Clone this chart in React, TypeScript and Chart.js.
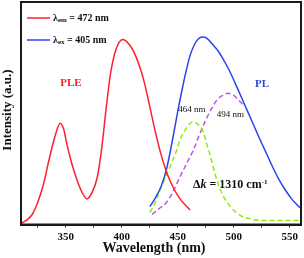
import { useEffect, useRef } from "react";
import { Chart, registerables } from "chart.js";

Chart.register(...registerables);

// PLE (λem = 472 nm)
const pleWavelength = [310, 315, 320, 325, 330, 335, 340, 345, 348, 351, 355, 360, 365, 369, 373, 378, 382, 386, 390, 395, 401, 408, 413, 419, 425, 430, 435, 440, 446, 452, 461];
const pleIntensity = [0.005, 0.02, 0.045, 0.1, 0.18, 0.29, 0.39, 0.455, 0.43, 0.36, 0.28, 0.2, 0.14, 0.115, 0.14, 0.21, 0.34, 0.52, 0.68, 0.79, 0.832, 0.8, 0.75, 0.66, 0.53, 0.415, 0.315, 0.235, 0.165, 0.115, 0.065];

// PL (λex = 405 nm)
const plWavelength = [425, 430, 435, 440, 446, 450, 454, 457, 461, 465, 468, 472, 476, 481, 486, 490, 496, 503, 510, 517, 524, 530, 535, 540, 546, 552, 559];
const plIntensity = [0.08, 0.12, 0.17, 0.25, 0.4, 0.51, 0.61, 0.68, 0.76, 0.81, 0.833, 0.843, 0.837, 0.81, 0.78, 0.748, 0.692, 0.615, 0.535, 0.455, 0.375, 0.31, 0.255, 0.205, 0.155, 0.113, 0.075];

// Gaussian component peaking at 464 nm
const fit464Wavelength = [425, 430, 434, 438, 443, 448, 452, 456, 460, 464, 468, 472, 476, 480, 484, 488, 492, 497, 503, 508, 513, 520, 530, 545, 560];
const fit464Intensity = [0.054, 0.1, 0.155, 0.2, 0.26, 0.32, 0.38, 0.42, 0.45, 0.462, 0.45, 0.425, 0.36, 0.29, 0.215, 0.155, 0.115, 0.08, 0.05, 0.035, 0.028, 0.02, 0.018, 0.018, 0.018];

// Gaussian component peaking at 494 nm
const fit494Wavelength = [427, 433, 440, 446, 452, 458, 464, 469, 475, 480, 485, 490, 495, 500, 505, 509];
const fit494Intensity = [0.045, 0.07, 0.1, 0.15, 0.215, 0.275, 0.336, 0.4, 0.47, 0.52, 0.56, 0.58, 0.59, 0.58, 0.555, 0.535];

const xAllTicks = [325, 350, 375, 400, 425, 450, 475, 500, 525, 550];
const xMajorTicks = [350, 400, 450, 500, 550];

const SERIF = "'Liberation Serif', 'Times New Roman', serif";

function toPoints(xs: number[], ys: number[]) {
  return xs.map((x, i) => ({ x, y: ys[i] }));
}

type Piece = { text: string; font: string; dy?: number };

function drawPieces(ctx: CanvasRenderingContext2D, pieces: Piece[], x: number, y: number, color: string) {
  let cx = x;
  ctx.fillStyle = color;
  ctx.textBaseline = "middle";
  ctx.textAlign = "left";
  for (const p of pieces) {
    ctx.font = p.font;
    ctx.fillText(p.text, cx, y + (p.dy || 0));
    cx += ctx.measureText(p.text).width;
  }
}

const overlayPlugin = {
  id: "overlay",
  afterDraw(chart: any) {
    const { ctx, chartArea } = chart;
    const { left, top, right, bottom } = chartArea;
    ctx.save();
    // frame
    ctx.strokeStyle = "#1a1a1a";
    ctx.lineWidth = 2;
    ctx.strokeRect(left, top, right - left, bottom - top);

    // legend
    const legendItems = [
      { color: "rgb(255,30,45)", sub: "em", rest: " = 472 nm", y: 18 },
      { color: "rgb(40,70,240)", sub: "ex", rest: " = 405 nm", y: 40 },
    ];
    for (const it of legendItems) {
      ctx.strokeStyle = it.color;
      ctx.lineWidth = 1.5;
      ctx.beginPath();
      ctx.moveTo(27, it.y);
      ctx.lineTo(50, it.y);
      ctx.stroke();
      drawPieces(
        ctx,
        [
          { text: "λ", font: `bold 10px ${SERIF}` },
          { text: it.sub, font: `bold 7px ${SERIF}`, dy: 2 },
          { text: it.rest, font: `bold 10px ${SERIF}` },
        ],
        53,
        it.y,
        "#111"
      );
    }

    // labels
    ctx.textAlign = "center";
    ctx.textBaseline = "middle";
    ctx.font = `bold 11px ${SERIF}`;
    ctx.fillStyle = "rgb(235,35,50)";
    ctx.fillText("PLE", 71, 83);
    ctx.fillStyle = "rgb(50,70,220)";
    ctx.fillText("PL", 262, 84);

    ctx.fillStyle = "#111";
    ctx.font = `9px ${SERIF}`;
    ctx.fillText("464 nm", 192, 110);
    ctx.fillText("494 nm", 230.5, 115);

    drawPieces(
      ctx,
      [
        { text: "Δ", font: `bold 12px ${SERIF}` },
        { text: "k", font: `italic bold 12px ${SERIF}` },
        { text: " = 1310 cm", font: `bold 12px ${SERIF}` },
        { text: "-1", font: `bold 7px ${SERIF}`, dy: -3 },
      ],
      193,
      185,
      "#111"
    );

    // axis titles
    ctx.fillStyle = "#111";
    ctx.textAlign = "center";
    ctx.textBaseline = "middle";
    ctx.font = `bold 14px ${SERIF}`;
    ctx.fillText("Wavelength (nm)", 154, 248);
    ctx.save();
    ctx.translate(8, 110);
    ctx.rotate(-Math.PI / 2);
    ctx.font = `bold 13px ${SERIF}`;
    ctx.fillText("Intensity (a.u.)", 0, 0);
    ctx.restore();

    ctx.restore();
  },
};

export default function App() {
  const canvasRef = useRef<HTMLCanvasElement | null>(null);

  useEffect(() => {
    document.body.style.margin = "0";
    const canvas = canvasRef.current;
    if (!canvas) return;
    const line = (data: any, color: string, dash: number[] = []) => ({
      data,
      borderColor: color,
      backgroundColor: color,
      borderWidth: 1.5,
      borderDash: dash,
      pointRadius: 0,
      fill: false,
      cubicInterpolationMode: "monotone" as const,
    });
    const chart = new Chart(canvas, {
      type: "line",
      data: {
        datasets: [
          { label: "λem = 472 nm", ...line(toPoints(pleWavelength, pleIntensity), "rgb(255,30,45)") },
          { label: "λex = 405 nm", ...line(toPoints(plWavelength, plIntensity), "rgb(40,70,240)") },
          { label: "464 nm", ...line(toPoints(fit464Wavelength, fit464Intensity), "rgb(135,240,0)", [5, 3]) },
          { label: "494 nm", ...line(toPoints(fit494Wavelength, fit494Intensity), "rgb(190,85,230)", [5, 3]) },
        ],
      },
      options: {
        animation: false,
        responsive: false,
        devicePixelRatio: 1,
        layout: { padding: { top: 2, right: 3, left: 0, bottom: 0 } },
        plugins: { legend: { display: false }, tooltip: { enabled: false } },
        scales: {
          x: {
            type: "linear",
            min: 310,
            max: 560,
            afterBuildTicks: (s: any) => {
              s.ticks = xAllTicks.map((v) => ({ value: v }));
            },
            afterFit: (s: any) => {
              s.height = 33.5;
            },
            grid: { drawOnChartArea: false, tickLength: 3, color: "#222", lineWidth: 1 },
            border: { color: "#1a1a1a", width: 2 },
            ticks: {
              autoSkip: false,
              maxRotation: 0,
              padding: 3,
              color: "#111",
              font: { family: SERIF, size: 11, weight: "bold" },
              callback: (v: any) => (xMajorTicks.includes(Number(v)) ? String(v) : ""),
            },
          },
          y: {
            type: "linear",
            min: 0,
            max: 1,
            afterFit: (s: any) => {
              s.width = 21;
            },
            grid: { display: false },
            border: { color: "#1a1a1a", width: 2 },
            ticks: { display: false },
          },
        },
      },
      plugins: [overlayPlugin],
    });
    return () => chart.destroy();
  }, []);

  return (
    <div style={{ position: "absolute", left: 0, top: 0, width: 304, height: 258, background: "#fff" }}>
      <canvas ref={canvasRef} width={304} height={258} style={{ display: "block" }} />
    </div>
  );
}
